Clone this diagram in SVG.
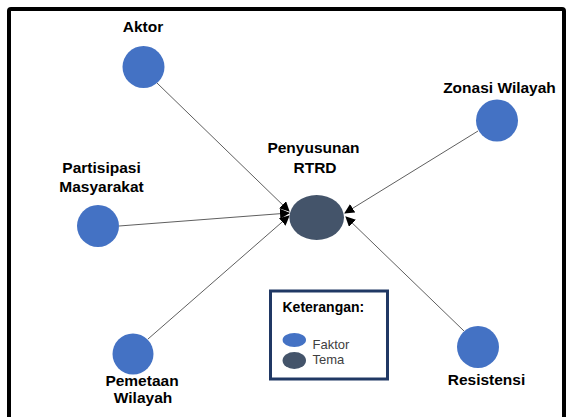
<svg xmlns="http://www.w3.org/2000/svg" width="568" height="417" viewBox="0 0 568 417">
<style>
.lbl{font-family:"Liberation Sans",Arial,sans-serif;font-weight:bold;font-size:15.5px;fill:#000;text-anchor:middle}
.fak{fill:#4472C4}
.tema{fill:#44546A}
.con{stroke:#5f5f5f;stroke-width:1;fill:none;marker-end:url(#ah)}
.leg{font-family:"Liberation Sans",Arial,sans-serif;font-size:13px;fill:#404040}
</style>
<defs>
<marker id="ah" viewBox="0 0 10 10" refX="9" refY="5" markerWidth="10" markerHeight="10" markerUnits="userSpaceOnUse" orient="auto">
<path d="M0,0 L10,5 L0,10 z" fill="#000"/>
</marker>
</defs>
<rect width="568" height="417" fill="#fff"/>
<rect x="9" y="9" width="555" height="425" rx="2" fill="none" stroke="#000" stroke-width="4"/>
<g id="connectors">
<line class="con" x1="157" y1="83" x2="289" y2="211"/>
<line class="con" x1="119" y1="226" x2="289" y2="213"/>
<line class="con" x1="148" y1="339" x2="289" y2="216"/>
<line class="con" x1="478" y1="131" x2="345" y2="213"/>
<line class="con" x1="464" y1="331" x2="346" y2="217"/>
</g>
<g id="aktor">
<circle class="fak" cx="143.5" cy="67" r="21"/>
<text class="lbl" x="143" y="31.5">Aktor</text>
</g>
<g id="zonasi">
<circle class="fak" cx="497" cy="120.5" r="21"/>
<text class="lbl" x="499.5" y="92.5">Zonasi Wilayah</text>
</g>
<g id="partisipasi">
<circle class="fak" cx="98" cy="226" r="21"/>
<text class="lbl" x="101.5" y="173.3">Partisipasi</text>
<text class="lbl" x="101.5" y="191.7">Masyarakat</text>
</g>
<g id="penyusunan">
<ellipse class="tema" cx="316.7" cy="217.5" rx="27.3" ry="22.5"/>
<text class="lbl" x="313.5" y="153.3">Penyusunan</text>
<text class="lbl" x="315" y="172.7">RTRD</text>
</g>
<g id="pemetaan">
<circle class="fak" cx="133" cy="354" r="20.5"/>
<text class="lbl" x="142" y="386">Pemetaan</text>
<text class="lbl" x="143" y="403.3">Wilayah</text>
</g>
<g id="resistensi">
<circle class="fak" cx="478" cy="347" r="21"/>
<text class="lbl" x="486.5" y="385">Resistensi</text>
</g>
<g id="legend">
<rect x="270.5" y="291" width="117" height="88" fill="#fff" stroke="#203864" stroke-width="3"/>
<text x="282.5" y="311.7" style="font-family:'Liberation Sans',Arial,sans-serif;font-weight:bold;font-size:14px;fill:#000">Keterangan:</text>
<ellipse class="fak" cx="294.3" cy="340" rx="11.7" ry="7"/>
<text class="leg" x="312.5" y="349">Faktor</text>
<ellipse class="tema" cx="294.3" cy="360.5" rx="11.7" ry="8.5"/>
<text class="leg" x="312.5" y="363.5">Tema</text>
</g>
</svg>
